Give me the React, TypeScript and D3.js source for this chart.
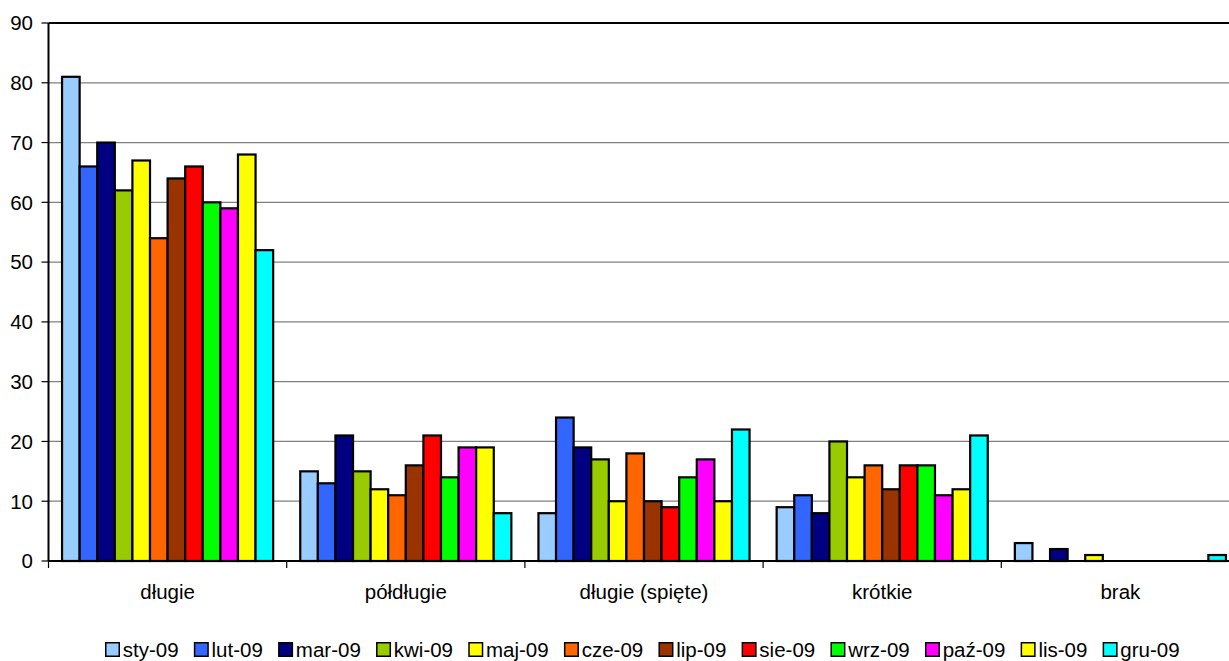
import React from "react";
import * as d3 from "d3";

const categories = ["długie", "półdługie", "długie (spięte)", "krótkie", "brak"];
const seriesNames = ["sty-09", "lut-09", "mar-09", "kwi-09", "maj-09", "cze-09", "lip-09", "sie-09", "wrz-09", "paź-09", "lis-09", "gru-09"];
const seriesColors = ["#99CCFF", "#3366FF", "#000080", "#99CC00", "#FFFF00", "#FF6600", "#993300", "#FF0000", "#00FF00", "#FF00FF", "#FFFF00", "#00FFFF"];
// values[series][category]
const values = [
  [81, 15, 8, 9, 3],
  [66, 13, 24, 11, 0],
  [70, 21, 19, 8, 2],
  [62, 15, 17, 20, 0],
  [67, 12, 10, 14, 1],
  [54, 11, 18, 16, 0],
  [64, 16, 10, 12, 0],
  [66, 21, 9, 16, 0],
  [60, 14, 14, 16, 0],
  [59, 19, 17, 11, 0],
  [68, 19, 10, 12, 0],
  [52, 8, 22, 21, 1],
];
const yTicks = [0, 10, 20, 30, 40, 50, 60, 70, 80, 90];

const W = 1229;
const H = 661;
const FONT = "Arial, 'Liberation Sans', sans-serif";

function measure(text: string, size: number): number {
  const c = document.createElement("canvas");
  const ctx = c.getContext("2d");
  if (!ctx) return text.length * size * 0.5;
  ctx.font = `${size}px Arial, "Liberation Sans", sans-serif`;
  return ctx.measureText(text).width;
}

export default function App() {
  const left = 48.5;
  const right = 1239.5;
  const top = 23;
  const bottom = 561;

  const x0 = d3.scaleBand<string>().domain(categories).range([left, right]).paddingInner(0).paddingOuter(0);
  const x1 = d3
    .scaleBand<string>()
    .domain(seriesNames)
    .range([0, x0.bandwidth()])
    .paddingInner(0)
    .paddingOuter(0.77);
  const y = d3.scaleLinear().domain([0, 90]).range([bottom, top]);

  // legend layout
  const fs = 20.5;
  const sq = 13.5;
  const textGap = 3.5;
  const itemGap = 16;
  const widths = seriesNames.map((s) => measure(s, fs));
  let lx = 105.75;
  const legendItems = seriesNames.map((s, i) => {
    const item = { x: lx, name: s, color: seriesColors[i] };
    lx += sq + textGap + widths[i] + itemGap;
    return item;
  });

  const boundaries = categories.map((c) => x0(c) as number);

  return (
    <svg width={W} height={H} style={{ position: "absolute", left: 0, top: 0, background: "#fff" }} fontFamily={FONT}>
      {/* gridlines */}
      {yTicks.slice(1, -1).map((t) => (
        <line key={t} x1={left} x2={right} y1={y(t)} y2={y(t)} stroke="#808080" strokeWidth={1.2} />
      ))}
      <line x1={left} x2={right} y1={y(90)} y2={y(90)} stroke="#000" strokeWidth={2} />
      {/* bars */}
      {categories.map((c, ci) => (
        <g key={c} transform={`translate(${x0(c)},0)`}>
          {seriesNames.map((s, si) => {
            const v = values[si][ci];
            if (v <= 0) return null;
            return (
              <rect
                key={s}
                x={x1(s)}
                y={y(v)}
                width={x1.bandwidth()}
                height={y(0) - y(v)}
                fill={seriesColors[si]}
                stroke="#000"
                strokeWidth={2.2}
              />
            );
          })}
        </g>
      ))}
      {/* axes */}
      <line x1={left} x2={left} y1={top} y2={bottom} stroke="#000" strokeWidth={2} />
      <line x1={left} x2={right} y1={bottom} y2={bottom} stroke="#000" strokeWidth={2} />
      {yTicks.map((t) => (
        <g key={t}>
          <line x1={left - 7} x2={left} y1={y(t)} y2={y(t)} stroke="#000" strokeWidth={1.2} />
          <text x={33} y={y(t)} dy="0.36em" textAnchor="end" fontSize={fs} fill="#000">
            {t}
          </text>
        </g>
      ))}
      {boundaries.map((b, i) => (
        <line key={i} x1={b} x2={b} y1={bottom} y2={bottom + 7} stroke="#000" strokeWidth={1.2} />
      ))}
      {categories.map((c) => (
        <text
          key={c}
          x={(x0(c) as number) + x0.bandwidth() / 2}
          y={592}
          dy="0.36em"
          textAnchor="middle"
          fontSize={fs}
          fill="#000"
        >
          {c}
        </text>
      ))}
      {/* legend */}
      {legendItems.map((it) => (
        <g key={it.name}>
          <rect x={it.x} y={642.75} width={sq} height={sq} fill={it.color} stroke="#000" strokeWidth={1.5} />
          <text x={it.x + sq + textGap} y={657} fontSize={fs} fill="#000">
            {it.name}
          </text>
        </g>
      ))}
    </svg>
  );
}
